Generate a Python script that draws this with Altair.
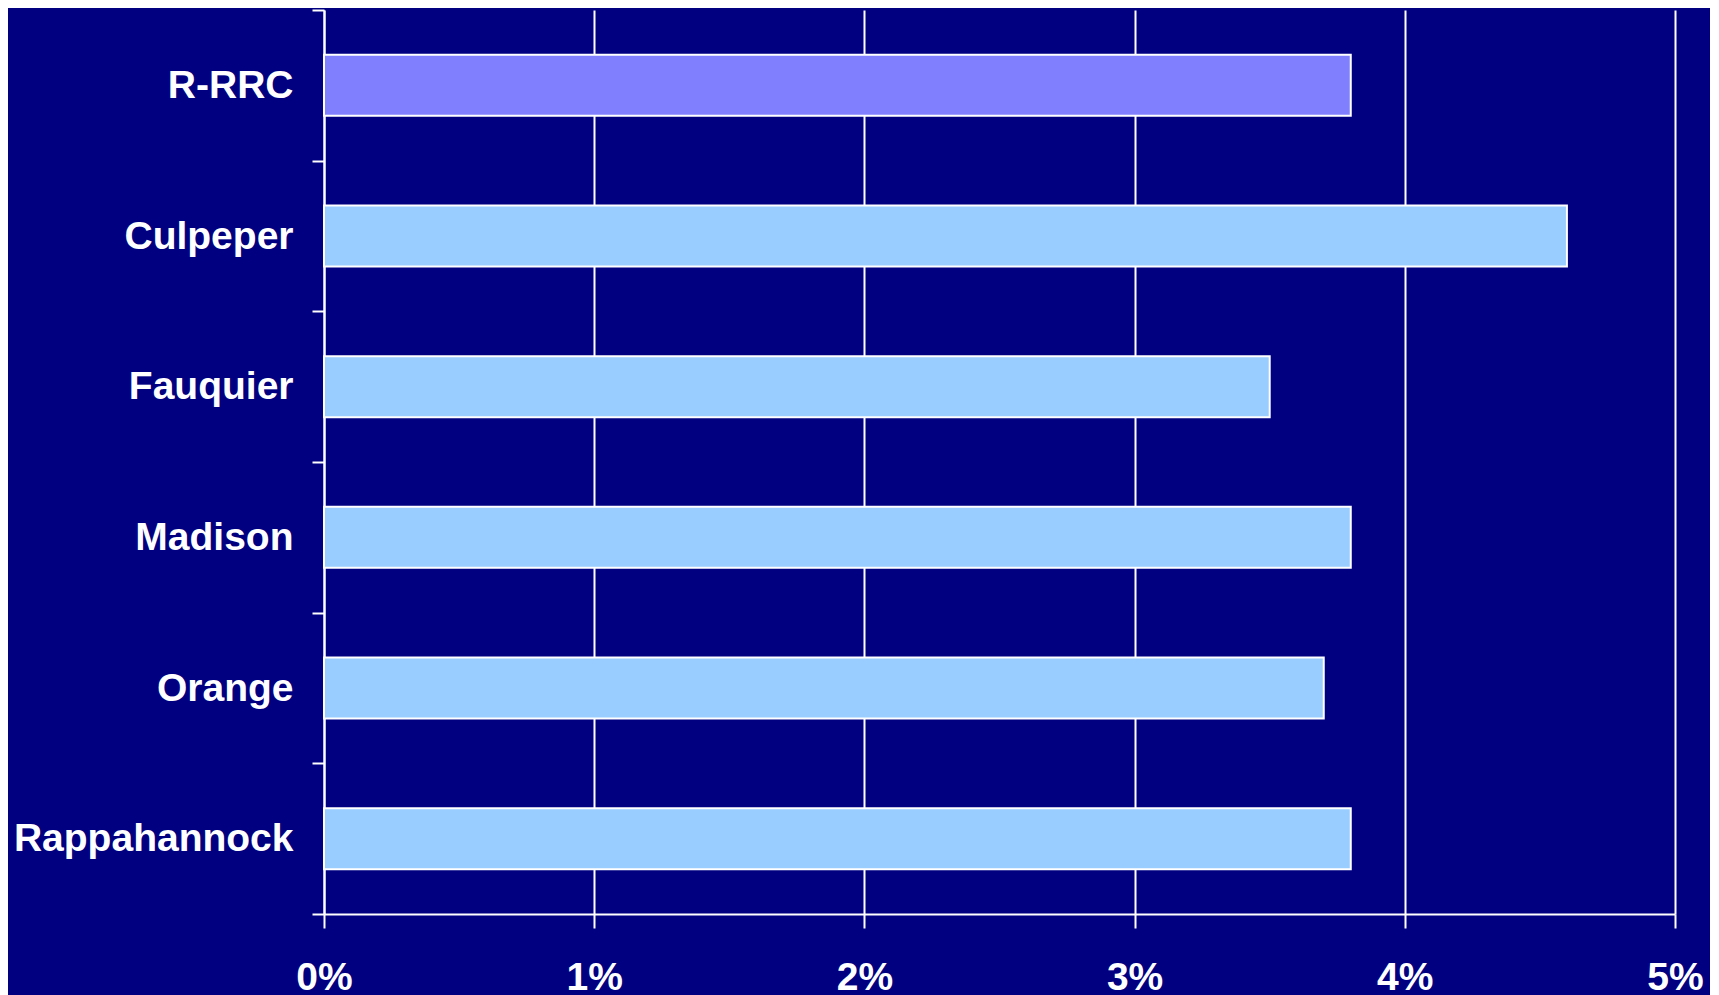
import altair as alt
import pandas as pd

categories = ["R-RRC", "Culpeper", "Fauquier", "Madison", "Orange", "Rappahannock"]
values = [3.8, 4.6, 3.5, 3.8, 3.7, 3.8]
groups = ["Region", "County", "County", "County", "County", "County"]

df = pd.DataFrame({"name": categories, "value": values, "group": groups})

FONT = "Liberation Sans"

bars = alt.Chart(df).mark_bar(
    stroke="white", strokeWidth=2, height=alt.RelativeBandSize(0.405)
).encode(
    y=alt.Y(
        "name:N",
        sort=categories,
        scale=alt.Scale(paddingInner=0, paddingOuter=0),
        axis=alt.Axis(
            title=None,
            tickBand="extent",
            tickSize=12,
            tickWidth=2,
            tickColor="white",
            domainColor="white",
            domainWidth=2,
            labelColor="white",
            labelFont=FONT,
            labelFontSize=39,
            labelFontWeight="bold",
            labelPadding=19,
            labelLimit=0,
            grid=False,
        ),
    ),
    x=alt.X(
        "value:Q",
        scale=alt.Scale(domain=[0, 5], nice=False),
        axis=alt.Axis(
            title=None,
            values=[0, 1, 2, 3, 4, 5],
            labelExpr="datum.value + '%'",
            tickSize=14,
            tickWidth=2,
            tickColor="white",
            domainColor="white",
            domainWidth=2,
            grid=True,
            gridColor="white",
            gridWidth=2,
            gridOpacity=1,
            labelColor="white",
            labelFont=FONT,
            labelFontSize=39,
            labelFontWeight="bold",
            labelPadding=30,
            labelFlush=False,
        ),
    ),
    color=alt.Color(
        "group:N",
        scale=alt.Scale(domain=["Region", "County"], range=["#8080FF", "#99CCFF"]),
        legend=None,
    ),
)

chart = bars.properties(
    width=1351,
    height=904,
    background="#000080",
    padding={"left": 316, "top": 2, "right": 35, "bottom": 95},
    autosize=alt.AutoSizeParams(type="none"),
).configure_view(stroke=None)

chart.save("out.html", embed_options={"renderer": "svg", "actions": False})
